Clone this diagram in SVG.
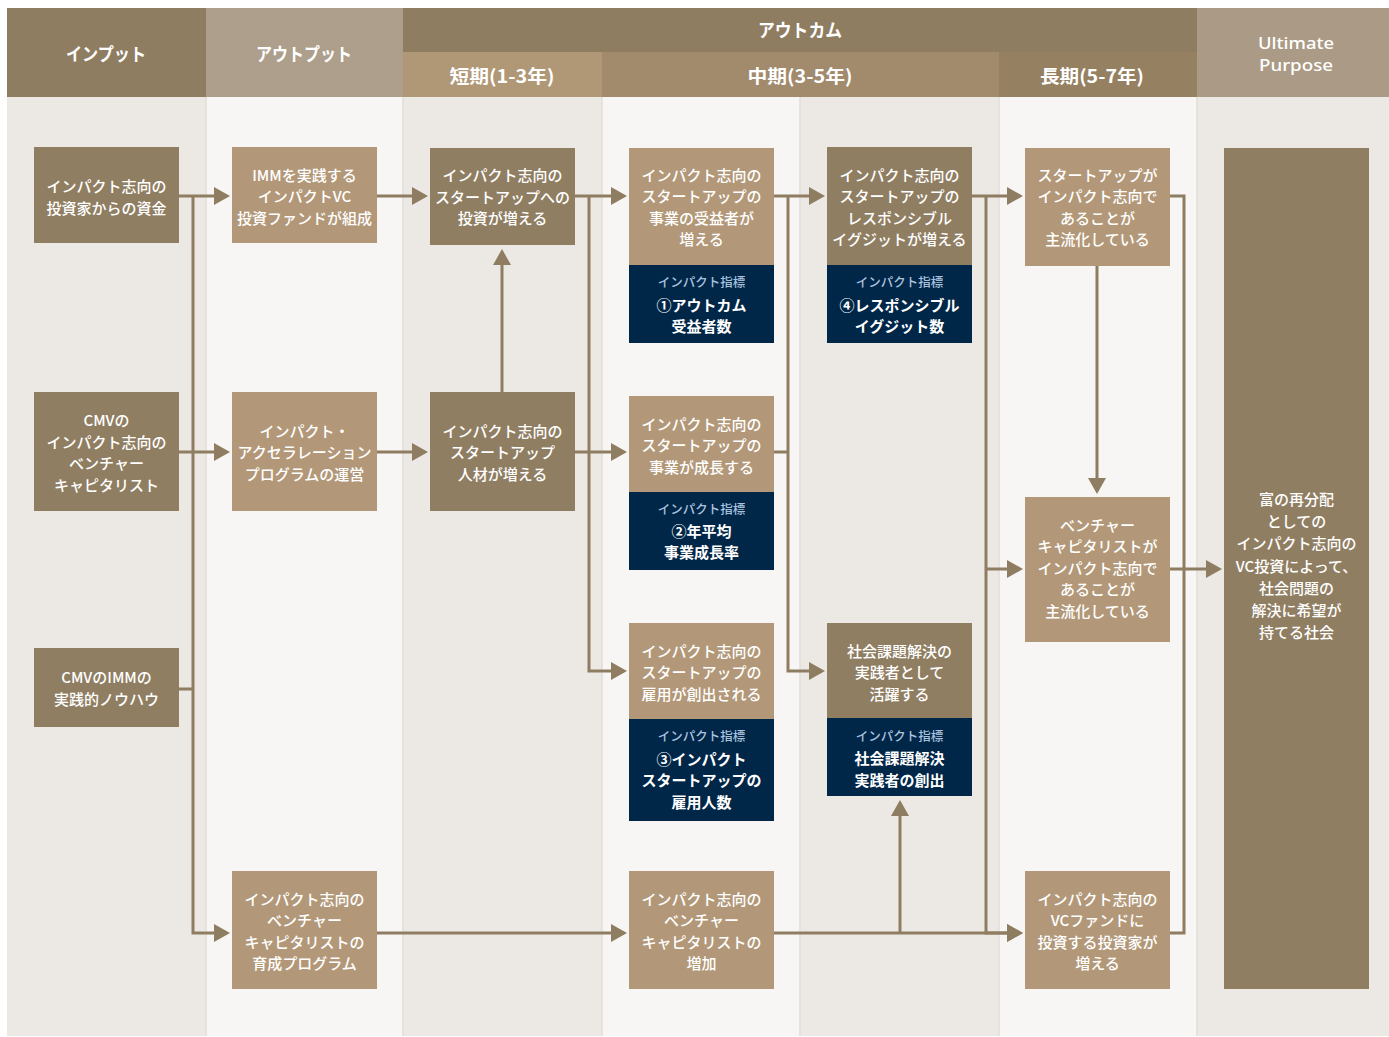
<svg xmlns="http://www.w3.org/2000/svg" width="1389" height="1037" viewBox="0 0 1389 1037">
<style>
text{font-family:"Noto Sans CJK JP","Noto Sans",sans-serif;text-anchor:middle;dominant-baseline:central}
.hd{fill:#ffffff;font-size:18px;font-weight:700}
.hl{fill:#ffffff;font-size:16px;font-weight:500;font-family:"Noto Sans","Liberation Sans",sans-serif}
.nt{fill:#ffffff;font-size:15px;font-weight:500}
.lb{fill:#A9C3DF;font-size:12.5px;font-weight:500}
.it{fill:#ffffff;font-size:15px;font-weight:700}
.dk{fill:#907E62}
.lt{fill:#B29878}
.nv{fill:#002648}
.cn{fill:none;stroke:#8F7D62;stroke-width:3}
.sep{stroke:#E2DED8;stroke-width:1.5}
</style>
<defs>
<marker id="ah" markerUnits="userSpaceOnUse" markerWidth="16" markerHeight="18" viewBox="0 0 16 18" refX="13" refY="9" orient="auto">
<path d="M0,0 L16,9 L0,18 Z" fill="#8F7D62"/>
</marker>
</defs>
<rect x="0" y="0" width="1389" height="1037" fill="#ffffff"/>
<g id="body-columns">
<rect x="7" y="97" width="199" height="939" fill="#ECE9E4"/>
<rect x="206" y="97" width="197" height="939" fill="#F7F6F4"/>
<rect x="403" y="97" width="199" height="939" fill="#ECE9E4"/>
<rect x="602" y="97" width="198" height="939" fill="#F7F6F4"/>
<rect x="800" y="97" width="199" height="939" fill="#ECE9E4"/>
<rect x="999" y="97" width="198" height="939" fill="#F7F6F4"/>
<rect x="1197" y="97" width="192" height="939" fill="#ECE9E4"/>
<line class="sep" x1="206" y1="97" x2="206" y2="1036"/>
<line class="sep" x1="403" y1="97" x2="403" y2="1036"/>
<line class="sep" x1="602" y1="97" x2="602" y2="1036"/>
<line class="sep" x1="800" y1="97" x2="800" y2="1036"/>
<line class="sep" x1="999" y1="97" x2="999" y2="1036"/>
<line class="sep" x1="1197" y1="97" x2="1197" y2="1036"/>
</g>
<g id="header">
<rect x="7" y="8" width="199" height="89" fill="#8F7D62"/>
<rect x="206" y="8" width="197" height="89" fill="#AE9F8C"/>
<rect x="403" y="8" width="794" height="44" fill="#8F7D62"/>
<rect x="403" y="52" width="199" height="45" fill="#B09877"/>
<rect x="602" y="52" width="397" height="45" fill="#A28A6C"/>
<rect x="999" y="52" width="198" height="45" fill="#968062"/>
<rect x="1197" y="8" width="192" height="89" fill="#AB9B86"/>
<text class="hd" x="106" y="53" textLength="80" lengthAdjust="spacingAndGlyphs">インプット</text>
<text class="hd" x="304" y="53" textLength="96" lengthAdjust="spacingAndGlyphs">アウトプット</text>
<text class="hd" x="800" y="29" textLength="84" lengthAdjust="spacingAndGlyphs">アウトカム</text>
<text class="hd" x="502" y="75" textLength="105" lengthAdjust="spacingAndGlyphs">短期(1-3年)</text>
<text class="hd" x="800" y="75" textLength="105" lengthAdjust="spacingAndGlyphs">中期(3-5年)</text>
<text class="hd" x="1092" y="75" textLength="104" lengthAdjust="spacingAndGlyphs">長期(5-7年)</text>
<text class="hl" x="1296" y="42.5" textLength="76" lengthAdjust="spacingAndGlyphs">Ultimate</text>
<text class="hl" x="1296" y="64.5" textLength="74" lengthAdjust="spacingAndGlyphs">Purpose</text>
</g>
<g id="connectors">
<path class="cn" d="M179,196 H227" marker-end="url(#ah)"/>
<path class="cn" d="M193,196 V933 H227" marker-end="url(#ah)"/>
<path class="cn" d="M179,452 H227" marker-end="url(#ah)"/>
<path class="cn" d="M179,689 H193"/>
<path class="cn" d="M377,196 H425" marker-end="url(#ah)"/>
<path class="cn" d="M377,452 H425" marker-end="url(#ah)"/>
<path class="cn" d="M502,392 V252" marker-end="url(#ah)"/>
<path class="cn" d="M575,196 H624" marker-end="url(#ah)"/>
<path class="cn" d="M589,196 V671 H624" marker-end="url(#ah)"/>
<path class="cn" d="M575,452 H624" marker-end="url(#ah)"/>
<path class="cn" d="M774,196 H822" marker-end="url(#ah)"/>
<path class="cn" d="M788,196 V671 H822" marker-end="url(#ah)"/>
<path class="cn" d="M774,452 H788"/>
<path class="cn" d="M972,196 H1020" marker-end="url(#ah)"/>
<path class="cn" d="M986,196 V933 H1020" marker-end="url(#ah)"/>
<path class="cn" d="M986,569 H1020" marker-end="url(#ah)"/>
<path class="cn" d="M377,933 H624" marker-end="url(#ah)"/>
<path class="cn" d="M774,933 H1020" marker-end="url(#ah)"/>
<path class="cn" d="M900,933 V803" marker-end="url(#ah)"/>
<path class="cn" d="M1097,266 V491" marker-end="url(#ah)"/>
<path class="cn" d="M1170,196 H1184 V933 H1170"/>
<path class="cn" d="M1170,569 H1219" marker-end="url(#ah)"/>
</g>
<g id="n-input-fund">
<rect class="dk" x="34" y="147" width="145" height="96"/>
<text class="nt" x="106.5" y="185.5">インパクト志向の</text>
<text class="nt" x="106.5" y="207">投資家からの資金</text>
</g>
<g id="n-input-cmv">
<rect class="dk" x="34" y="392" width="145" height="119"/>
<text class="nt" x="106.5" y="419.5">CMVの</text>
<text class="nt" x="106.5" y="441">インパクト志向の</text>
<text class="nt" x="106.5" y="462.5">ベンチャー</text>
<text class="nt" x="106.5" y="484">キャピタリスト</text>
</g>
<g id="n-input-knowhow">
<rect class="dk" x="34" y="648" width="145" height="79"/>
<text class="nt" x="106.5" y="676.5">CMVのIMMの</text>
<text class="nt" x="106.5" y="698">実践的ノウハウ</text>
</g>
<g id="n-output-fund">
<rect class="lt" x="232" y="147" width="145" height="96"/>
<text class="nt" x="304.5" y="174">IMMを実践する</text>
<text class="nt" x="304.5" y="195.5">インパクトVC</text>
<text class="nt" x="304.5" y="217">投資ファンドが組成</text>
</g>
<g id="n-output-accel">
<rect class="lt" x="232" y="392" width="145" height="119"/>
<text class="nt" x="304.5" y="430">インパクト・</text>
<text class="nt" x="304.5" y="451.5">アクセラレーション</text>
<text class="nt" x="304.5" y="473">プログラムの運営</text>
</g>
<g id="n-output-training">
<rect class="lt" x="232" y="871" width="145" height="118"/>
<text class="nt" x="304.5" y="898">インパクト志向の</text>
<text class="nt" x="304.5" y="919.5">ベンチャー</text>
<text class="nt" x="304.5" y="941">キャピタリストの</text>
<text class="nt" x="304.5" y="962.5">育成プログラム</text>
</g>
<g id="n-short-invest">
<rect class="dk" x="430" y="148" width="145" height="97"/>
<text class="nt" x="502.5" y="174.5">インパクト志向の</text>
<text class="nt" x="502.5" y="196">スタートアップへの</text>
<text class="nt" x="502.5" y="217.5">投資が増える</text>
</g>
<g id="n-short-talent">
<rect class="dk" x="430" y="392" width="145" height="119"/>
<text class="nt" x="502.5" y="430">インパクト志向の</text>
<text class="nt" x="502.5" y="451.5">スタートアップ</text>
<text class="nt" x="502.5" y="473">人材が増える</text>
</g>
<g id="n-mid-beneficiaries">
<rect class="lt" x="629" y="148" width="145" height="117"/>
<rect class="nv" x="629" y="265" width="145" height="78"/>
<text class="nt" x="701.5" y="174">インパクト志向の</text>
<text class="nt" x="701.5" y="195.5">スタートアップの</text>
<text class="nt" x="701.5" y="217">事業の受益者が</text>
<text class="nt" x="701.5" y="238.5">増える</text>
<text class="lb" x="701.5" y="281.5">インパクト指標</text>
<text class="it" x="701.5" y="304">①アウトカム</text>
<text class="it" x="701.5" y="325.5">受益者数</text>
</g>
<g id="n-mid-growth">
<rect class="lt" x="629" y="396" width="145" height="96"/>
<rect class="nv" x="629" y="492" width="145" height="78"/>
<text class="nt" x="701.5" y="423">インパクト志向の</text>
<text class="nt" x="701.5" y="444.5">スタートアップの</text>
<text class="nt" x="701.5" y="466">事業が成長する</text>
<text class="lb" x="701.5" y="508">インパクト指標</text>
<text class="it" x="701.5" y="530">②年平均</text>
<text class="it" x="701.5" y="551.5">事業成長率</text>
</g>
<g id="n-mid-employment">
<rect class="lt" x="629" y="623" width="145" height="96"/>
<rect class="nv" x="629" y="719" width="145" height="102"/>
<text class="nt" x="701.5" y="650">インパクト志向の</text>
<text class="nt" x="701.5" y="671.5">スタートアップの</text>
<text class="nt" x="701.5" y="693">雇用が創出される</text>
<text class="lb" x="701.5" y="735">インパクト指標</text>
<text class="it" x="701.5" y="758">③インパクト</text>
<text class="it" x="701.5" y="779.5">スタートアップの</text>
<text class="it" x="701.5" y="801">雇用人数</text>
</g>
<g id="n-mid-vc-increase">
<rect class="lt" x="629" y="871" width="145" height="118"/>
<text class="nt" x="701.5" y="898">インパクト志向の</text>
<text class="nt" x="701.5" y="919.5">ベンチャー</text>
<text class="nt" x="701.5" y="941">キャピタリストの</text>
<text class="nt" x="701.5" y="962.5">増加</text>
</g>
<g id="n-mid-exit">
<rect class="dk" x="827" y="147" width="145" height="118"/>
<rect class="nv" x="827" y="265" width="145" height="78"/>
<text class="nt" x="899.5" y="174">インパクト志向の</text>
<text class="nt" x="899.5" y="195.5">スタートアップの</text>
<text class="nt" x="899.5" y="217">レスポンシブル</text>
<text class="nt" x="899.5" y="238.5">イグジットが増える</text>
<text class="lb" x="899.5" y="281.5">インパクト指標</text>
<text class="it" x="899.5" y="304">④レスポンシブル</text>
<text class="it" x="899.5" y="325.5">イグジット数</text>
</g>
<g id="n-mid-social">
<rect class="dk" x="827" y="623" width="145" height="95"/>
<rect class="nv" x="827" y="718" width="145" height="78"/>
<text class="nt" x="899.5" y="650">社会課題解決の</text>
<text class="nt" x="899.5" y="671.5">実践者として</text>
<text class="nt" x="899.5" y="693">活躍する</text>
<text class="lb" x="899.5" y="735">インパクト指標</text>
<text class="it" x="899.5" y="757.5">社会課題解決</text>
<text class="it" x="899.5" y="779">実践者の創出</text>
</g>
<g id="n-long-startup">
<rect class="lt" x="1025" y="148" width="145" height="118"/>
<text class="nt" x="1097.5" y="174">スタートアップが</text>
<text class="nt" x="1097.5" y="195.5">インパクト志向で</text>
<text class="nt" x="1097.5" y="217">あることが</text>
<text class="nt" x="1097.5" y="238.5">主流化している</text>
</g>
<g id="n-long-vc">
<rect class="lt" x="1025" y="497" width="145" height="145"/>
<text class="nt" x="1097.5" y="524">ベンチャー</text>
<text class="nt" x="1097.5" y="545.5">キャピタリストが</text>
<text class="nt" x="1097.5" y="567">インパクト志向で</text>
<text class="nt" x="1097.5" y="588.5">あることが</text>
<text class="nt" x="1097.5" y="610">主流化している</text>
</g>
<g id="n-long-investors">
<rect class="lt" x="1025" y="871" width="145" height="118"/>
<text class="nt" x="1097.5" y="898">インパクト志向の</text>
<text class="nt" x="1097.5" y="919.5">VCファンドに</text>
<text class="nt" x="1097.5" y="941">投資する投資家が</text>
<text class="nt" x="1097.5" y="962.5">増える</text>
</g>
<g id="n-ultimate">
<rect class="dk" x="1224" y="148" width="145" height="841"/>
<text class="nt" x="1296.5" y="498.5">富の再分配</text>
<text class="nt" x="1296.5" y="520.7">としての</text>
<text class="nt" x="1296.5" y="542.9">インパクト志向の</text>
<text class="nt" x="1296.5" y="565.1">VC投資によって、</text>
<text class="nt" x="1296.5" y="587.3">社会問題の</text>
<text class="nt" x="1296.5" y="609.5">解決に希望が</text>
<text class="nt" x="1296.5" y="631.7">持てる社会</text>
</g>
</svg>
